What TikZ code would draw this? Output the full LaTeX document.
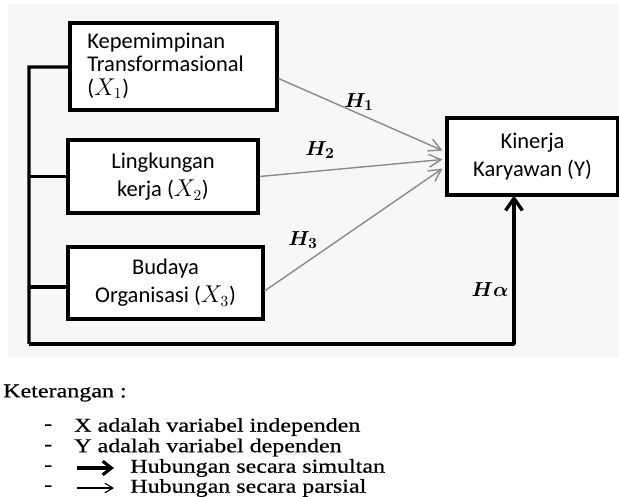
\documentclass[tikz,border=0pt]{standalone}
\usepackage{fontspec}
\usepackage{amsmath}
\setmainfont{Liberation Serif}
\newfontfamily\boxfont{Carlito}
\newfontfamily\ketfont[FakeStretch=1.22, FakeBold=0.6]{Liberation Serif}
\usetikzlibrary{arrows.meta,positioning,calc}
\definecolor{kpPanel}{HTML}{F7F7F7}
\definecolor{kpLine}{HTML}{8A8A8A}

\begin{document}
\begin{tikzpicture}[x=0.025cm, y=-0.025cm,
  varbox/.style={draw=black, line width=2.2pt, fill=white, inner sep=0pt, font=\boxfont\fontsize{16}{18}\selectfont},
  parsial/.style={-{Straight Barb[length=3mm, width=3.2mm]}, line width=1pt, color=kpLine},
  simultan/.style={-{Straight Barb[length=3mm, width=4.2mm]}, line width=2.4pt, line join=round},
  hlabel/.style={font=\boldmath\fontsize{15}{18}\selectfont, inner sep=1pt},
  legend/.style={anchor=west, inner sep=0pt, font=\ketfont\fontsize{14}{16}\selectfont}
]
  \useasboundingbox (0,0) rectangle (619,496);
  \fill[kpPanel] (8,4) rectangle (619,358);

  % variabel
  \node[varbox, minimum width=207*0.025cm, minimum height=87*0.025cm] (x1) at (173.5,66.5) {};
  \node[anchor=north west, align=left, inner sep=0pt, font=\boxfont\fontsize{16}{16.5}\selectfont] (x1text) at (87,33) {Kepemimpinan\\Transformasional\\($X_1$)};
  \node[varbox, minimum width=190*0.025cm, minimum height=73*0.025cm, align=center] (x2) at (163,176.5) {Lingkungan\\[2pt]kerja ($X_2$)};
  \node[varbox, minimum width=195*0.025cm, minimum height=72*0.025cm, align=center] (x3) at (165.5,283) {Budaya\\[2pt]Organisasi ($X_3$)};
  \node[varbox, minimum width=171*0.025cm, minimum height=77*0.025cm, align=center] (y) at (532.5,156.5) {Kinerja\\[2pt]Karyawan (Y)};

  % hubungan parsial
  \draw[parsial] (x1.east) ++(0,12) coordinate (h1s) -- ($(y.west)+(-3,-6)$) coordinate (h1e);
  \draw[parsial] (x2.east) -- ($(y.west)+(-3,3)$) coordinate (h2e);
  \draw[parsial] (x3.east) ++(0,8) coordinate (h3s) -- ($(y.west)+(-3,12)$) coordinate (h3e);
  \node[hlabel] (h1) at (359,102) {$H_1$};
  \node[hlabel] (h2) at (320,150) {$H_2$};
  \node[hlabel] (h3) at (303,240) {$H_3$};

  % hubungan simultan
  \coordinate (bustop) at (29,67);
  \coordinate (busbot) at (29,344);
  \draw[line width=2.4pt] (x1.west) ++(0,0.5) -- (bustop |- 0,67) -- (busbot);
  \draw[line width=2.4pt] (x2.west) -- (bustop |- x2.west);
  \draw[line width=2.4pt] (x3.west) ++(0,4) -- (29,287);
  \draw[simultan] (busbot) -- (514,344) -- (514,195.5);
  \node[hlabel] (ha) at (490,290) {$H\alpha$};

  % keterangan
  \node[legend] (ket) at (3,393) {Keterangan :};
  \node[legend] (d1) at (44,427) {-};
  \node[legend] (l1) at (74,427) {X adalah variabel independen};
  \node[legend] (d2) at (44,447.5) {-};
  \node[legend] (l2) at (74,447.5) {Y adalah variabel dependen};
  \node[legend] (d3) at (44,468) {-};
  \node[legend] (l3) at (130,468) {Hubungan secara simultan};
  \node[legend] (d4) at (44,488) {-};
  \node[legend] (l4) at (130,488) {Hubungan secara parsial};
  \draw[-{Straight Barb[length=2.2mm, width=3.4mm]}, line width=2.2pt] (77,468) -- (114,468);
  \draw[-{Straight Barb[length=2mm, width=2.4mm]}, line width=0.8pt] (77,488) -- (114,488);
\end{tikzpicture}
\end{document}
